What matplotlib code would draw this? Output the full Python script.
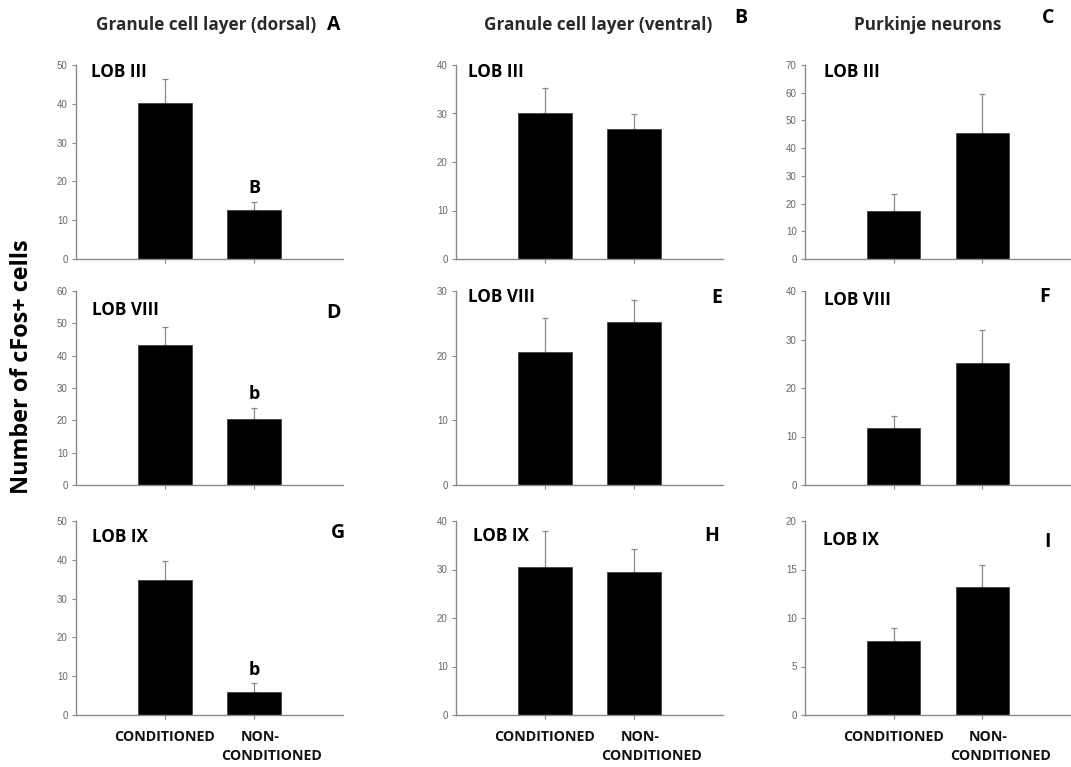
import matplotlib
matplotlib.use("Agg")
import matplotlib.pyplot as plt
import matplotlib.transforms as mtransforms
import numpy as np

GROUPS = ["CONDITIONED", "NON-", "CONDITIONED"]
PANELS = ["A", "B", "C", "D", "E", "F", "G", "H", "I"]
LOBES = ["LOB III", "LOB III", "LOB III", "LOB VIII", "LOB VIII", "LOB VIII", "LOB IX", "LOB IX", "LOB IX"]
COL_TITLES = ["Granule cell layer (dorsal)", "Granule cell layer (ventral)", "Purkinje neurons"]

cond_mean = [40.3, 30.2, 17.5, 43.3, 20.6, 11.7, 34.8, 30.6, 7.6]
cond_sem = [6.0, 5.1, 5.8, 5.6, 5.2, 2.5, 4.8, 7.3, 1.4]
non_mean = [12.7, 26.8, 45.3, 20.3, 25.2, 25.1, 6.0, 29.4, 13.2]
non_sem = [2.0, 3.1, 14.4, 3.6, 3.4, 6.9, 2.2, 4.9, 2.3]
y_max = [50, 40, 70, 60, 30, 40, 50, 40, 20]
y_step = [10, 10, 10, 10, 10, 10, 10, 10, 5]
sig_mark = ["B", "", "", "b", "", "", "b", "", ""]

BOLD = "Open Sans"
GRAY = "#8a8a8a"

fig = plt.figure(figsize=(10.71, 7.67), dpi=100)
W, H = 1071, 767
lefts = [76, 456, 805]
widths = [267, 267, 266]
tops = [65, 291, 521]
ax_h = 194

# panel letter / lob label positions in pixels
lob_xy = [(91, 72), (468, 72), (824, 72), (92, 310), (468, 297), (824, 300), (92, 537), (473, 536), (823, 540)]
let_xy = [(334, 25), (741, 18), (1048, 18), (334, 313), (717, 298), (1045, 297), (338, 533), (712, 536), (1048, 542)]
# category label anchors: (x in data units, y in axes fraction)
lab_pos = [(1.0, -0.113), (2.07, -0.113), (2.2, -0.211)]

for i in range(9):
    r, c = divmod(i, 3)
    ax = fig.add_axes([lefts[c] / W, 1 - (tops[r] + ax_h) / H, widths[c] / W, ax_h / H])
    x = np.array([1, 2])
    means = [cond_mean[i], non_mean[i]]
    sems = [cond_sem[i], non_sem[i]]
    ax.bar(x, means, width=0.6, color="black", edgecolor="#444444", linewidth=0.6, zorder=2)
    ax.errorbar(x, means, yerr=[[0, 0], sems], fmt="none", ecolor=GRAY, elinewidth=0.9,
                capsize=2, capthick=0.9, zorder=1)
    ax.set_xlim(0, 3)
    ax.set_ylim(0, y_max[i])
    ax.set_yticks(np.arange(0, y_max[i] + 0.1, y_step[i]))
    ax.set_xticks(x)
    ax.set_xticklabels([])
    for s in ["top", "right"]:
        ax.spines[s].set_visible(False)
    for s in ["left", "bottom"]:
        ax.spines[s].set_color(GRAY)
        ax.spines[s].set_linewidth(1.0)
    ax.tick_params(axis="y", colors=GRAY, labelcolor="#666666", labelsize=7, length=3, width=0.8, pad=3)
    ax.tick_params(axis="x", colors=GRAY, length=3, width=0.8)
    for t in ax.get_yticklabels():
        t.set_family("Liberation Sans")
    if r == 2:
        trans = mtransforms.blended_transform_factory(ax.transData, ax.transAxes)
        for lab, (gx, gy) in zip(GROUPS, lab_pos):
            ax.text(gx, gy, lab, transform=trans, ha="center", va="center", fontsize=10.2,
                    fontweight="bold", family=BOLD, color="#111111", clip_on=False)
    if sig_mark[i]:
        ax.text(2, non_mean[i] + non_sem[i] + 1.2 * y_max[i] / 50, sig_mark[i], ha="center",
                va="bottom", fontsize=13, fontweight="bold", family=BOLD)
    lx, ly = lob_xy[i]
    fig.text(lx / W, 1 - ly / H, LOBES[i], ha="left", va="center", fontsize=12.3,
             fontweight="bold", family=BOLD)
    px, py = let_xy[i]
    fig.text(px / W, 1 - py / H, PANELS[i], ha="center", va="center", fontsize=14,
             fontweight="bold", family=BOLD)

title_x = [206, 598, 928]
for c in range(3):
    fig.text(title_x[c] / W, 1 - 25 / H, COL_TITLES[c], ha="center", va="center", fontsize=12.3,
             fontweight="bold", family=BOLD, color="#2a2a2a")

fig.text(22 / W, 1 - 367 / H, "Number of cFos+ cells", rotation=90, ha="center", va="center",
         fontsize=16.8, fontweight="bold", family=BOLD)

fig.savefig("out.png", dpi=100, facecolor="white")
